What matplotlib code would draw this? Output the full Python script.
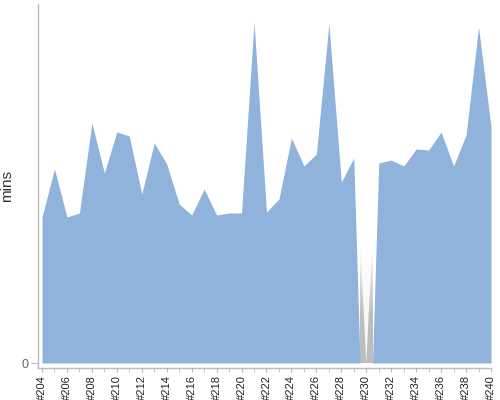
import matplotlib
matplotlib.use("Agg")
import numpy as np
import matplotlib.pyplot as plt
from matplotlib.patches import Polygon

plt.rcParams["font.family"] = ["Liberation Sans", "DejaVu Sans"]

# build numbers and duration (mins); None = no result for that build
builds = list(range(204, 241))
mins = [14.6, 19.4, 14.6, 15.0, 24.0, 19.0, 23.1, 22.7, 16.9, 22.0,
        19.9, 15.9, 14.8, 17.4, 14.8, 15.0, 15.0, 34.1, 15.1, 16.4,
        22.5, 19.7, 20.9, 33.9, 18.1, 20.5, None, 20.0, 20.3, 19.7,
        21.4, 21.3, 23.1, 19.7, 22.8, 33.6, 23.6]
failed_builds = [230]

blue = "#8FB3DB"
axis_grey = "#BBBBBB"

# area drops to zero half a step either side of a missing build
xs, ys = [], []
for b, v in zip(builds, mins):
    if v is None:
        xs += [b - 0.5, b + 0.5]
        ys += [0.0, 0.0]
    else:
        xs.append(b)
        ys.append(v)

fig = plt.figure(figsize=(5, 4), dpi=100)
ax = fig.add_axes([0.076, 0.08, 0.906, 0.91])

# grey marker behind the gap for failed builds
grad = np.concatenate([np.full(40, 0.74), np.linspace(0.74, 1.0, 60)]).reshape(-1, 1)
for b in failed_builds:
    ax.imshow(grad, cmap="gray", vmin=0, vmax=1, origin="lower",
              extent=[b - 0.5, b + 0.5, 0, 12.0], aspect="auto", zorder=1)
    ax.add_patch(Polygon([[b - 0.5, 12.5], [b + 0.5, 12.5], [b, 0]],
                         closed=True, facecolor="white", edgecolor="none",
                         alpha=0.9, zorder=2))

ax.fill_between(xs, 0, ys, color=blue, linewidth=0, zorder=3)

ax.set_xlim(203.68, 240)
ax.set_ylim(-0.5, 35.9)

ax.set_xticks(builds[::2])
ax.set_xticklabels([f"#{b}" for b in builds[::2]], rotation=90, fontsize=8,
                   color="#222222")
ax.set_xticks(builds[1::2], minor=True)
ax.tick_params(axis="x", which="both", length=3, color=axis_grey, pad=2)

ax.set_yticks([0])
ax.set_yticklabels(["0"], fontsize=9, color="#666666")
ax.tick_params(axis="y", length=5, color=axis_grey, pad=2)

ax.set_ylabel("mins", fontsize=11, color="#333333")
ax.yaxis.set_label_coords(-0.053, 0.5)

for side in ("top", "right"):
    ax.spines[side].set_visible(False)
for side in ("left", "bottom"):
    ax.spines[side].set_color(axis_grey)
    ax.spines[side].set_linewidth(1)

fig.savefig("out.png", dpi=100)
